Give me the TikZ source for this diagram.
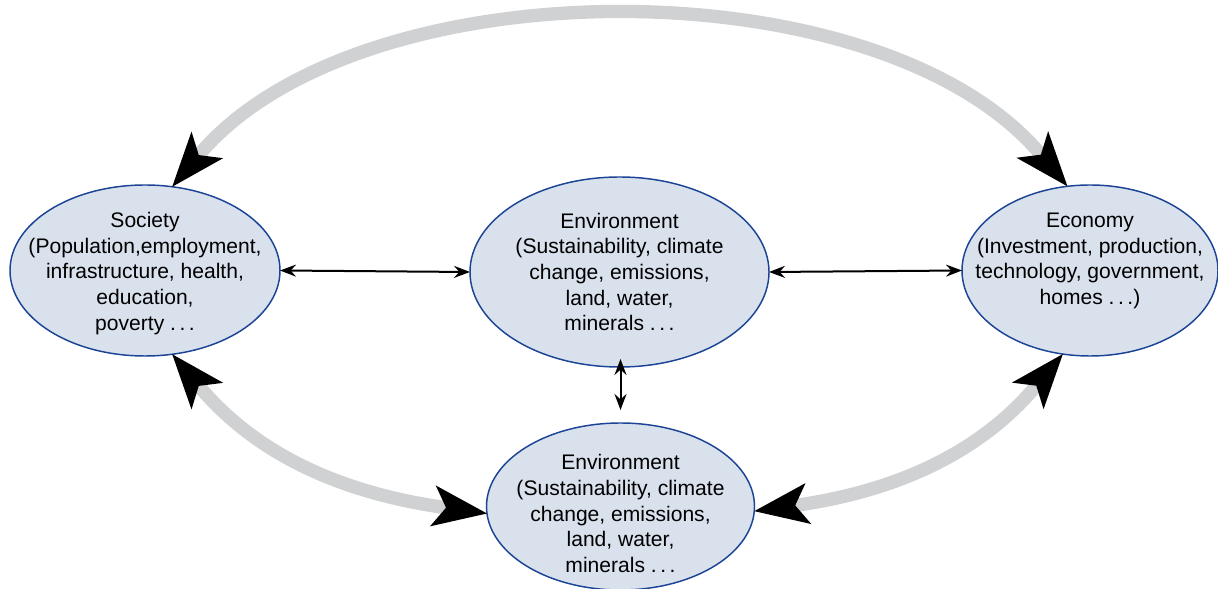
\documentclass[tikz,border=0pt]{standalone}
\usepackage{fontspec}
\setmainfont{Liberation Sans}
\usetikzlibrary{shapes.geometric, arrows.meta, calc}

\definecolor{sectorfill}{RGB}{217,225,236}
\definecolor{sectorline}{RGB}{28,68,150}
\definecolor{arcgrey}{RGB}{208,209,211}

\begin{document}
\begin{tikzpicture}
  [x = 0.75pt, y = 0.75pt,
  % sector
  sector/.style = {ellipse,
    draw = sectorline, fill = sectorfill,
    line width = 1.1pt,
    inner sep = 0pt, outer sep = 0pt},
  % tekst
  txt/.style = {align = center, inner sep = 0pt,
    font = \fontsize{15.8pt}{19.3pt}\selectfont},
  % link
  link/.style = {draw, line width = 1.5pt,
    {Stealth[length=12pt, width=9pt, inset=4pt]}-{Stealth[length=12pt, width=9pt, inset=4pt]}},
  % feedback
  feedback/.style = {draw = arcgrey, line width = 10pt,
    {Stealth[length=41pt, width=31pt, inset=10pt, color=black, line width=0pt]}-{Stealth[length=41pt, width=31pt, inset=10pt, color=black, line width=0pt]}},
  ]

  \useasboundingbox (0,0) rectangle (1218,589);

  % nodes
  \node [sector, minimum width = 202.5pt, minimum height = 128.25pt] (soc) at (145,318.5) {};
  \node [sector, minimum width = 224.25pt, minimum height = 142.5pt] (envtop) at (619.5,317) {};
  \node [sector, minimum width = 192pt, minimum height = 128.25pt] (econ) at (1090,318.5) {};
  \node [sector, minimum width = 201pt, minimum height = 125.25pt] (envbot) at (620.5,82.5) {};

  \node [txt, yshift = -2.25pt] (soctxt) at (soc) {Society\\(Population,employment,\\infrastructure, health,\\education,\\poverty .\,.\,.};
  \node [txt] (envtoptxt) at (envtop) {Environment\\(Sustainability, climate\\change, emissions,\\land, water,\\minerals .\,.\,.};
  \node [txt, yshift = 7.2pt] (econtxt) at (econ) {Economy\\(Investment, production,\\technology, government,\\homes .\,.\,.)};
  \node [txt, yshift = -5.25pt] (envbottxt) at (envbot) {Environment\\(Sustainability, climate\\change, emissions,\\land, water,\\minerals .\,.\,.};

  % path
  \path [feedback] (soc.72) .. controls +(50:291) and +(130:291) .. (econ.105);
  \path [feedback] (soc.288) to [out=-50, in=172] (envbot.183);
  \path [feedback] (econ.252) to [out=230, in=8] (envbot.-2);

  \path [link] (soc.east) -- (envtop.west);
  \path [link] (envtop.east) -- (econ.west);
  \path [link, shorten <= -6pt, shorten >= 9.75pt] (envtop.south -| envbot.north) -- (envbot.north);

\end{tikzpicture}
\end{document}
